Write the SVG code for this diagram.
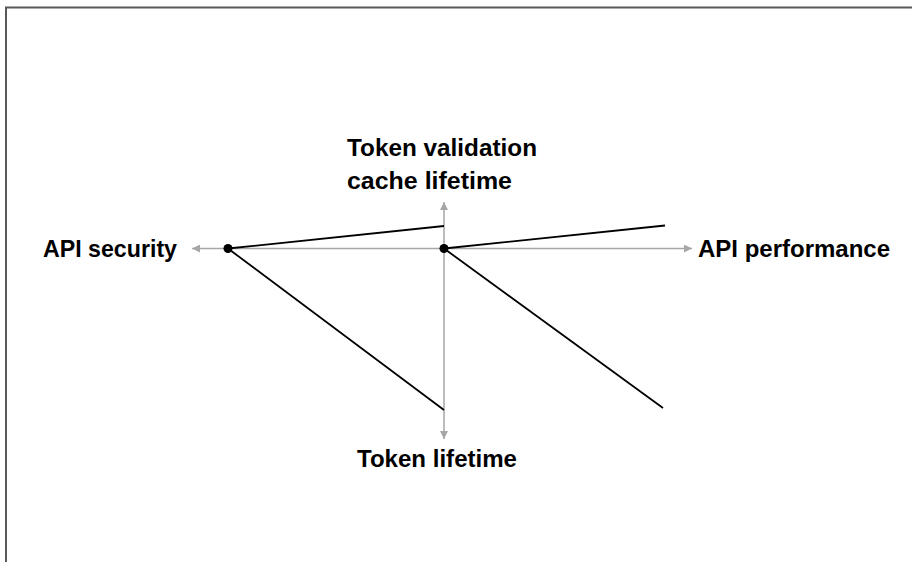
<svg xmlns="http://www.w3.org/2000/svg" width="912" height="562" viewBox="0 0 912 562">
  <style>
    .frame { fill: none; stroke: #595959; stroke-width: 2; }
    .axis { stroke: #a6a6a6; stroke-width: 1.5; fill: none; }
    .curve { stroke: #000; stroke-width: 1.8; fill: none; }
    .dot { fill: #000; }
    .label { font-family: "Liberation Sans", Arial, sans-serif; font-weight: bold; font-size: 24px; fill: #000; }
  </style>
  <defs>
    <marker id="arrow" viewBox="0 0 10 10" refX="10" refY="5" markerWidth="8" markerHeight="8" markerUnits="userSpaceOnUse" orient="auto">
      <path d="M0,0 L10,5 L0,10 z" fill="#a6a6a6"/>
    </marker>
  </defs>
  <rect width="912" height="562" fill="#fff"/>
  <rect class="frame" x="6" y="7.5" width="920" height="570"/>

  <g id="axes">
    <line class="axis" x1="444" y1="248.5" x2="192" y2="248.5" marker-end="url(#arrow)"/>
    <line class="axis" x1="444" y1="248.5" x2="692" y2="248.5" marker-end="url(#arrow)"/>
    <line class="axis" x1="444" y1="248.5" x2="444" y2="202" marker-end="url(#arrow)"/>
    <line class="axis" x1="444" y1="248.5" x2="444" y2="439" marker-end="url(#arrow)"/>
  </g>

  <g id="connectors">
    <line class="curve" x1="228" y1="248.5" x2="444" y2="226"/>
    <line class="curve" x1="228" y1="248.5" x2="444" y2="410"/>
    <line class="curve" x1="444" y1="248.5" x2="665" y2="225.5"/>
    <line class="curve" x1="444" y1="248.5" x2="663" y2="408"/>
  </g>

  <g id="point-security">
    <circle class="dot" cx="228" cy="248.5" r="4.5"/>
  </g>
  <g id="point-performance">
    <circle class="dot" cx="444" cy="248.5" r="4.5"/>
  </g>

  <g id="label-security">
    <text class="label" x="43" y="257" textLength="134" lengthAdjust="spacingAndGlyphs">API security</text>
  </g>
  <g id="label-performance">
    <text class="label" x="698" y="257" textLength="192" lengthAdjust="spacingAndGlyphs">API performance</text>
  </g>
  <g id="label-cache">
    <text class="label" x="347" y="156" textLength="190" lengthAdjust="spacingAndGlyphs">Token validation</text>
    <text class="label" x="347" y="189" textLength="165" lengthAdjust="spacingAndGlyphs">cache lifetime</text>
  </g>
  <g id="label-token">
    <text class="label" x="357" y="467" textLength="160" lengthAdjust="spacingAndGlyphs">Token lifetime</text>
  </g>
</svg>
